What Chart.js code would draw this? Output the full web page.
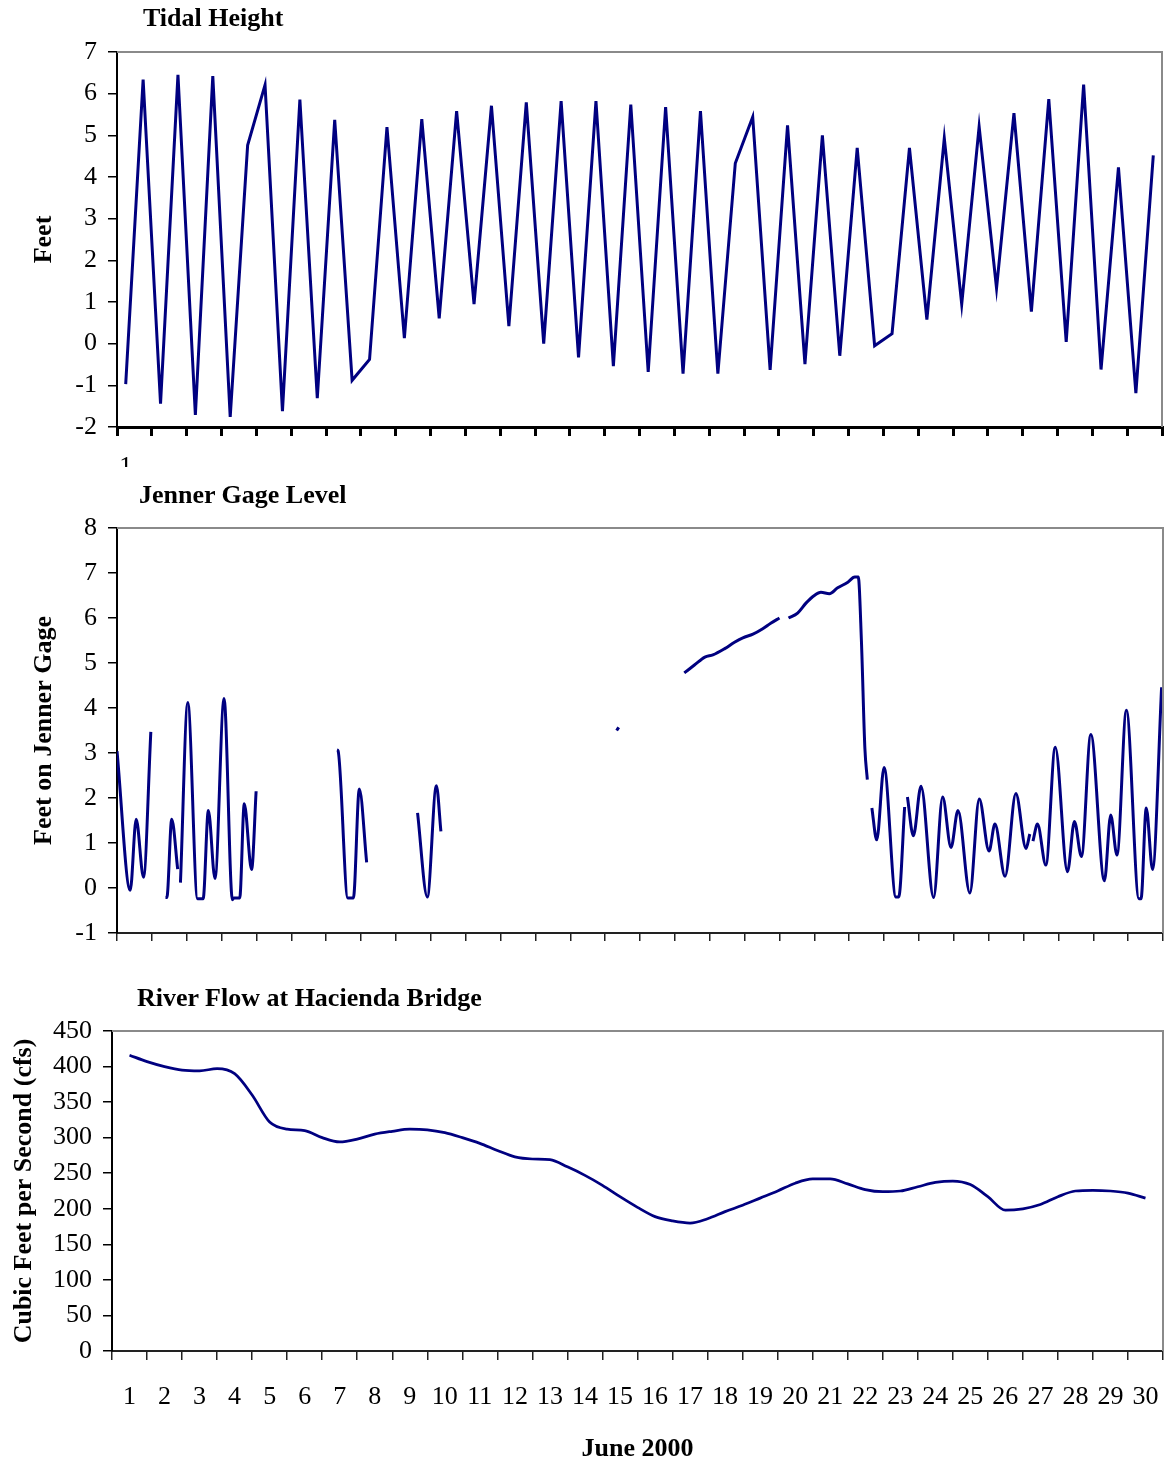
<!DOCTYPE html>
<html>
<head>
<meta charset="utf-8">
<script src="https://cdn.jsdelivr.net/npm/chart.js@4"></script>
<style>
  body { margin: 0; background: #fff; }
  #page { position: relative; width: 1167px; height: 1465px; }
  canvas { position: absolute; left: 0; }
  .title {
    position: absolute; font: bold 26px 'Liberation Serif', 'Times New Roman', serif;
    line-height: 30px; color: #000; white-space: nowrap; z-index: 2;
  }
</style>
</head>
<body>
<div id="page">
  <div class="title" style="left:143px;top:3px">Tidal Height</div>
  <div class="title" style="left:139px;top:480px">Jenner Gage Level</div>
  <div class="title" style="left:137px;top:983px">River Flow at Hacienda Bridge</div>
  <canvas id="tide" width="1167" height="467" style="top:0"></canvas>
  <canvas id="jenner" width="1167" height="493" style="top:467px"></canvas>
  <canvas id="flow" width="1167" height="505" style="top:960px"></canvas>
</div>
<script>
// tidal height, two readings a day (feet)
const tideFeet = [
  -0.97, 6.34, -1.44, 6.45, -1.71, 6.42, -1.76, 4.76, 6.21, -1.62,
  5.86, -1.31, 5.37, -0.88, -0.38, 5.2, 0.13, 5.39, 0.61, 5.58,
  0.95, 5.71, 0.42, 5.79, 0.0, 5.82, -0.33, 5.82, -0.54, 5.74,
  -0.68, 5.68, -0.72, 5.58, -0.72, 4.33, 5.44, -0.63, 5.24, -0.49,
  5.0, -0.29, 4.7, -0.05, 0.24, 4.7, 0.58, 4.93, 0.95, 5.21,
  1.33, 5.53, 0.77, 5.87, 0.04, 6.22, -0.62, 4.23, -1.19, 4.52
];
const tideLabels = Array.from({ length: tideFeet.length }, (_, i) => String(Math.floor(i / 2) + 1));

// Jenner gage, days since start of June; null = no record
const jennerDay = [
  0.00, 0.38, 0.55, 0.76, 0.97, null,
  1.39, 1.43, 1.57, 1.74, null,
  1.82, 2.03, 2.31, 2.47, 2.62, 2.81, 3.07, 3.31, 3.35, 3.52, 3.65, 3.86, 3.99, null,
  6.31, 6.34, 6.62, 6.78, 6.95, 7.16, null,
  8.62, 8.90, 9.16, 9.29, null,
  14.33, 14.39, null,
  16.27, 16.57, 16.86, 17.09, 17.43, 17.71, 17.95, 18.24, 18.52, 18.76, 19.00, null,
  19.26, 19.52, 19.76, 20.00, 20.19, 20.43, 20.67, 20.95, 21.16, 21.26, 21.35, 21.45, 21.52, null,
  21.65, 21.79, 22.00, 22.34, 22.42, 22.59, null,
  22.67, 22.84, 23.06, 23.42, 23.68, 23.92, 24.12, 24.46, 24.73, 25.01, 25.18, 25.47, 25.78, 26.07, 26.18, null,
  26.27, 26.40, 26.64, 26.91, 27.26, 27.46, 27.66, 27.93, 28.32, 28.50, 28.68, 28.95, 29.31, 29.37, 29.52, 29.70, 29.96
];
const jennerFeet = [
  3.04, -0.05, 1.53, 0.24, 3.47, null,
  -0.21, -0.21, 1.53, 0.42, null,
  0.12, 4.12, -0.24, -0.24, 1.72, 0.21, 4.21, -0.26, -0.22, -0.22, 1.87, 0.41, 2.15, null,
  3.07, 3.05, -0.22, -0.22, 2.2, 0.57, null,
  1.67, -0.2, 2.27, 1.26, null,
  3.5, 3.57, null,
  4.78, 4.96, 5.13, 5.18, 5.32, 5.46, 5.56, 5.64, 5.76, 5.89, 6.0, null,
  6.0, 6.11, 6.33, 6.5, 6.57, 6.54, 6.67, 6.79, 6.91, 6.91, 5.5, 3.1, 2.41, null,
  1.78, 1.07, 2.68, -0.2, -0.2, 1.8, null,
  2.02, 1.16, 2.26, -0.21, 2.02, 0.9, 1.72, -0.11, 1.98, 0.82, 1.42, 0.26, 2.1, 0.88, 1.2, null,
  1.04, 1.42, 0.51, 3.13, 0.36, 1.48, 0.7, 3.41, 0.16, 1.62, 0.73, 3.95, -0.24, -0.24, 1.78, 0.41, 4.46
];

// river flow at Hacienda Bridge (cfs), twice a day
const flowDay = [
  1, 1.5, 2, 2.5, 3, 3.5, 4, 4.5, 5, 5.5, 6, 6.5, 7, 7.5, 8, 8.5, 9, 9.5, 10, 10.5,
  11, 11.5, 12, 12.5, 13, 13.5, 14, 14.5, 15, 15.5, 16, 16.5, 17, 17.5, 18, 18.5, 19, 19.5, 20, 20.5,
  21, 21.5, 22, 22.5, 23, 23.5, 24, 24.5, 25, 25.5, 26, 26.5, 27, 27.5, 28, 28.5, 29, 29.5, 30
];
const flowCfs = [
  416, 407, 400, 395, 394, 397, 390, 360, 322, 312, 310, 300, 294, 298, 305, 309, 312, 311, 307, 300,
  292, 282, 273, 270, 269, 259, 247, 233, 217, 202, 189, 183, 180, 186, 196, 205, 215, 225, 236, 242,
  242, 235, 227, 224, 225, 231, 237, 239, 234, 217, 198, 200, 206, 217, 225, 226, 225, 222, 215
];
const dayLabels = ['1','2','3','4','5','6','7','8','9','10','11','12','13','14','15',
  '16','17','18','19','20','21','22','23','24','25','26','27','28','29','30'];

const NAVY = '#000080';
const SERIF = "'Liberation Serif', 'Times New Roman', serif";
const tickFont = { family: SERIF, size: 26 };
const boldFont = { family: SERIF, size: 26, weight: 'bold' };

Chart.defaults.font.family = SERIF;
Chart.defaults.color = '#000';

// grey top and right edges of the plot box
const frame = {
  id: 'frame',
  afterDraw(chart) {
    const { ctx, chartArea: a } = chart;
    ctx.save();
    ctx.strokeStyle = '#8a8a8a';
    ctx.lineWidth = 2;
    ctx.beginPath();
    ctx.moveTo(a.left, a.top);
    ctx.lineTo(a.right, a.top);
    ctx.lineTo(a.right, a.bottom);
    ctx.stroke();
    ctx.restore();
  }
};

// keep label overhang from shrinking the plot box
function noOverhang(s) {
  s.paddingLeft = 0;
  s.paddingRight = 0;
  s.paddingTop = 0;
  s.paddingBottom = 0;
}

function yAxis(min, max, step, title, titlePad, width) {
  return {
    min, max,
    ticks: { stepSize: step, padding: 11, font: tickFont, color: '#000' },
    grid: { drawOnChartArea: false, tickLength: 9, color: '#000', lineWidth: 1.5 },
    border: { color: '#000', width: 2 },
    title: { display: true, text: title, font: boldFont, color: '#000', padding: { top: titlePad, bottom: 0 } },
    afterFit: s => { s.width = width; noOverhang(s); }
  };
}

const base = {
  responsive: false,
  animation: false,
  plugins: { legend: { display: false }, tooltip: { enabled: false } }
};

new Chart(document.getElementById('tide'), {
  type: 'line',
  data: {
    labels: tideLabels,
    datasets: [{ data: tideFeet, borderColor: NAVY, borderWidth: 3, pointRadius: 0, tension: 0 }]
  },
  options: {
    ...base,
    layout: { autoPadding: false, padding: { top: 52, right: 5, left: 0, bottom: 0 } },
    scales: {
      x: {
        type: 'category',
        offset: true,
        grid: {
          offset: true, drawOnChartArea: false, tickLength: 9, lineWidth: 3,
          color: c => ((c.index ?? 0) % 2 === 0 ? '#000' : 'rgba(0,0,0,0)')
        },
        border: { color: '#000', width: 3 },
        ticks: {
          autoSkip: false, maxRotation: 0, padding: 16, font: tickFont, color: '#000',
          callback: (v, i) => (i === 0 ? tideLabels[0] : '')
        },
        afterFit: s => { s.height = 40; noOverhang(s); }
      },
      y: yAxis(-2, 7, 1, 'Feet', 29, 117)
    }
  },
  plugins: [frame]
});

new Chart(document.getElementById('jenner'), {
  type: 'line',
  data: {
    datasets: [{
      data: jennerDay.map((d, i) => ({ x: d, y: jennerFeet[i] })),
      borderColor: NAVY, borderWidth: 3, pointRadius: 0,
      cubicInterpolationMode: 'monotone', spanGaps: false
    }]
  },
  options: {
    ...base,
    layout: { autoPadding: false, padding: { top: 61, right: 4, left: 0, bottom: 0 } },
    scales: {
      x: {
        type: 'linear', min: 0, max: 30,
        ticks: { stepSize: 1, display: false },
        grid: { drawOnChartArea: false, tickLength: 8, color: '#222', lineWidth: 1.5 },
        border: { color: '#222', width: 2 },
        afterFit: s => { s.height = 27; noOverhang(s); }
      },
      y: yAxis(-1, 8, 1, 'Feet on Jenner Gage', 29, 117)
    }
  },
  plugins: [frame]
});

new Chart(document.getElementById('flow'), {
  type: 'line',
  data: {
    datasets: [{
      data: flowDay.map((d, i) => ({ x: d, y: flowCfs[i] })),
      borderColor: NAVY, borderWidth: 2.75, pointRadius: 0, cubicInterpolationMode: 'monotone'
    }]
  },
  options: {
    ...base,
    layout: { autoPadding: false, padding: { top: 71, right: 4, left: 0, bottom: 0 } },
    scales: {
      x: {
        type: 'linear', min: 0.5, max: 30.5,
        afterBuildTicks: s => { s.ticks = dayLabels.map(l => ({ value: Number(l) })); },
        ticks: {
          autoSkip: false, maxRotation: 0, padding: 22, font: tickFont, color: '#000',
          callback: v => dayLabels[v - 1]
        },
        grid: { offset: true, drawOnChartArea: false, tickLength: 9, color: '#222', lineWidth: 1.5 },
        border: { color: '#222', width: 2 },
        title: { display: true, text: 'June 2000', font: boldFont, color: '#000', padding: { top: 0, bottom: 0 } },
        afterFit: s => { s.height = 114; noOverhang(s); }
      },
      y: yAxis(0, 450, 50, 'Cubic Feet per Second (cfs)', 9, 112)
    }
  },
  plugins: [frame]
});
</script>
</body>
</html>
